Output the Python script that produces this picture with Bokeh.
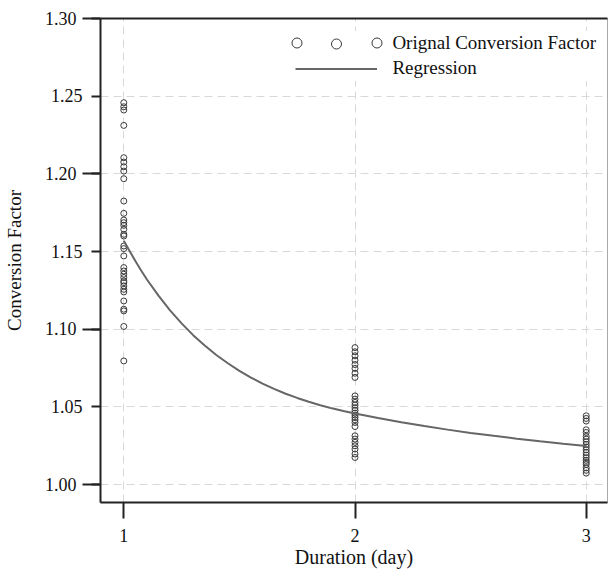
from bokeh.plotting import figure
from bokeh.models import (Range1d, FixedTicker, LinearAxis, Legend, LegendItem,
                          CustomJSTickFormatter)
from bokeh.embed import file_html
from bokeh.resources import INLINE

# ---- data ----
day1_values = [1.2458, 1.2432, 1.2411, 1.2312, 1.2104, 1.2076, 1.2046, 1.2018,
               1.1969, 1.1825, 1.1746, 1.1703, 1.1686, 1.1669, 1.1643, 1.1611,
               1.1600, 1.1536, 1.1519, 1.1472, 1.1397, 1.1375, 1.1354, 1.1333,
               1.1311, 1.1300, 1.1279, 1.1257, 1.1240, 1.1182, 1.1129, 1.1118,
               1.1018, 1.0796]
day2_values = [1.0882, 1.0855, 1.0829, 1.0801, 1.0773, 1.0748, 1.0717, 1.0690,
               1.0571, 1.0550, 1.0529, 1.0512, 1.0494, 1.0477, 1.0460, 1.0447,
               1.0432, 1.0417, 1.0400, 1.0374, 1.0314, 1.0293, 1.0272, 1.0250,
               1.0229, 1.0197, 1.0175]
day3_values = [1.0443, 1.0426, 1.0409, 1.0353, 1.0336, 1.0310, 1.0293, 1.0276,
               1.0259, 1.0242, 1.0224, 1.0207, 1.0190, 1.0173, 1.0156, 1.0143,
               1.0130, 1.0108, 1.0092, 1.0074]
days = [1, 2, 3]

reg_x = [1.0, 1.025, 1.05, 1.075, 1.1, 1.15, 1.2, 1.25, 1.3, 1.35, 1.4, 1.45,
         1.5, 1.55, 1.6, 1.65, 1.7, 1.75, 1.8, 1.85, 1.9, 1.95, 2.0,
         2.1, 2.2, 2.3, 2.4, 2.5, 2.6, 2.7, 2.8, 2.9, 3.0]
reg_y = [1.1570, 1.1504, 1.1439, 1.1378, 1.1320, 1.1216, 1.1121, 1.1038,
         1.0962, 1.0895, 1.0834, 1.0781, 1.0732, 1.0689, 1.0650, 1.0616,
         1.0585, 1.0558, 1.0533, 1.0511, 1.0491, 1.0474, 1.0458,
         1.0429, 1.0402, 1.0377, 1.0354, 1.0333, 1.0314, 1.0296, 1.0279,
         1.0263, 1.0248]

y_ticks = [1.00, 1.05, 1.10, 1.15, 1.20, 1.25, 1.30]
y_long_ticks = [1.00, 1.10, 1.20, 1.30]
x_ticks = [1, 2, 3]

scatter_label = "Orignal Conversion Factor"
line_label = "Regression"
x_title = "Duration (day)"
y_title = "Conversion Factor"

FONT = "Liberation Serif"
AX = "#222222"
TXT = "#111111"

xs = []
ys = []
for d, vals in zip(days, [day1_values, day2_values, day3_values]):
    xs += [d] * len(vals)
    ys += vals

p = figure(width=609, height=572, output_backend="svg", toolbar_location=None,
           x_range=Range1d(0.8992, 3.0921), y_range=Range1d(0.9885, 1.30),
           x_axis_label=x_title, y_axis_label=y_title)
p.min_border_left = 100
p.min_border_right = 2
p.min_border_top = 18
p.min_border_bottom = 70
p.background_fill_color = "white"
p.border_fill_color = "white"
p.outline_line_color = "#aaaaaa"
p.outline_line_width = 1

# grids
p.xgrid.ticker = FixedTicker(ticks=x_ticks)
p.ygrid.ticker = FixedTicker(ticks=y_ticks)
for g in (p.xgrid, p.ygrid):
    g.grid_line_color = "#d9d9d9"
    g.grid_line_dash = "8 5"
    g.grid_line_width = 1

# x axis
xa = p.xaxis[0]
xa.ticker = FixedTicker(ticks=x_ticks)
xa.major_tick_out = 16
xa.major_tick_in = 0
xa.minor_tick_out = 0
xa.minor_tick_in = 0
xa.major_label_standoff = 10
xa.axis_label_standoff = 1

# y axis: every value labelled, short ticks everywhere, long ticks at 1.0/1.1/1.2/1.3
ya = p.yaxis[0]
ya.ticker = FixedTicker(ticks=y_ticks, minor_ticks=y_long_ticks)
ya.formatter = CustomJSTickFormatter(args=dict(longs=y_long_ticks), code="""
const s = tick.toFixed(2);
for (const v of longs) { if (Math.abs(v - tick) < 1e-6) return s + '\\u2004'; }
return s;
""")
ya.major_tick_out = 9
ya.major_tick_in = 0
ya.minor_tick_out = 18
ya.minor_tick_in = 0
ya.major_label_standoff = 0
ya.axis_label_standoff = 17

for a in (xa, ya):
    a.axis_line_color = AX
    a.axis_line_width = 2
    a.major_tick_line_color = AX
    a.major_tick_line_width = 2
    a.minor_tick_line_color = AX
    a.minor_tick_line_width = 2
    a.major_label_text_font = FONT
    a.major_label_text_font_size = "18px"
    a.major_label_text_color = TXT
    a.axis_label_text_font = FONT
    a.axis_label_text_font_style = "normal"
    a.axis_label_text_color = TXT
xa.axis_label_text_font_size = "20px"
ya.axis_label_text_font_size = "19px"

# top border line
top = LinearAxis(ticker=FixedTicker(ticks=[]), major_tick_out=0, major_tick_in=0,
                 minor_tick_out=0, minor_tick_in=0, major_label_text_font_size="0px",
                 major_label_standoff=0, axis_line_color=AX, axis_line_width=2)
p.add_layout(top, "above")

# data
sc = p.scatter(xs, ys, marker="circle", size=6, fill_color=None,
               line_color="#3a3a3a", line_width=1)
ln = p.line(reg_x, reg_y, line_color="#666666", line_width=2)

# legend
leg = Legend(items=[LegendItem(label=scatter_label, renderers=[sc]),
                    LegendItem(label=line_label, renderers=[ln])],
             location=(195.4, 421.3), orientation="vertical",
             glyph_width=82, glyph_height=25, label_height=25, spacing=0,
             label_standoff=15, padding=8, margin=0,
             border_line_color=None, background_fill_color="white",
             background_fill_alpha=1.0,
             label_text_font=FONT, label_text_font_size="19px",
             label_text_color=TXT)
p.add_layout(leg, "center")

extra = Legend(items=[LegendItem(label=" ", renderers=[sc]),
                      LegendItem(label=" ", renderers=[sc])],
               location=(184.2, 446.8), orientation="horizontal",
               glyph_width=25, glyph_height=25, label_width=55, label_height=25,
               spacing=0, label_standoff=0, padding=0, margin=0,
               border_line_color=None, background_fill_alpha=0.0,
               label_text_font=FONT, label_text_font_size="19px")
p.add_layout(extra, "center")

open("out.html", "w").write(file_html(p, INLINE))
